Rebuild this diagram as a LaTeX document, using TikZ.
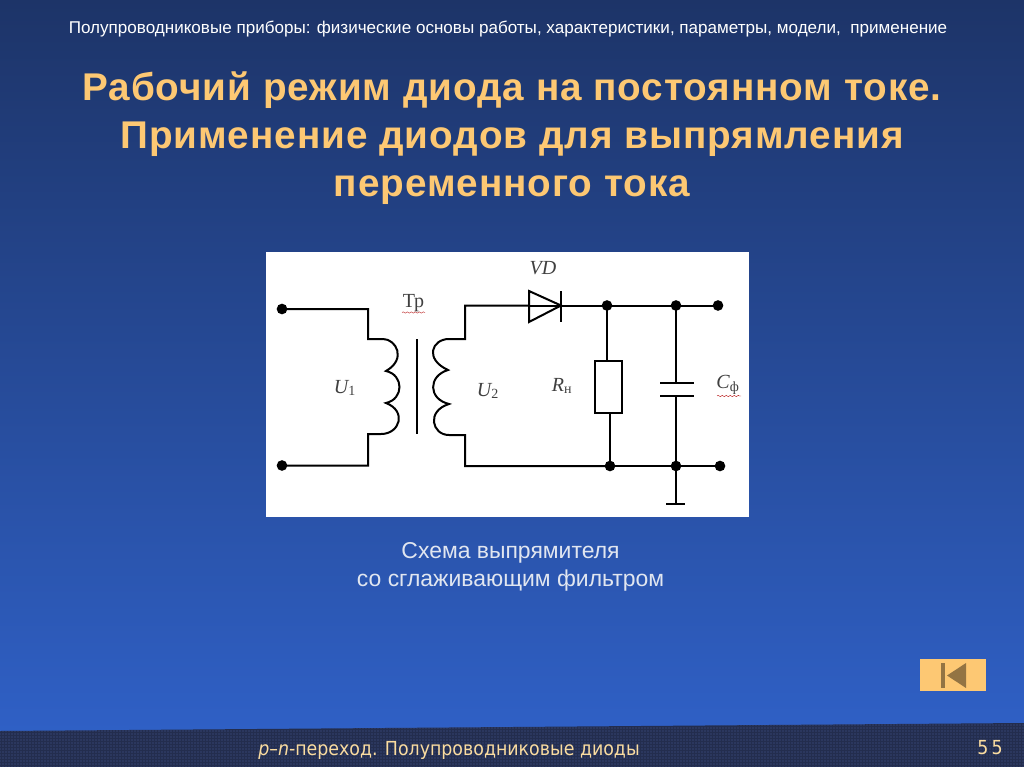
\documentclass[tikz,border=0pt]{standalone}
\usepackage{fontspec}
\setmainfont{Liberation Sans}
\newfontfamily\serifface{Liberation Serif}
\newfontfamily\titleface[LetterSpace=2.45]{Liberation Sans}
\newfontfamily\footface{DejaVu Sans Condensed}
\usetikzlibrary{decorations.pathmorphing, patterns.meta}
\definecolor{titleorange}{RGB}{253,200,115}
\definecolor{footband}{RGB}{35,45,78}
\definecolor{footdots}{RGB}{70,90,150}
\definecolor{footcream}{RGB}{250,220,160}
\definecolor{capgrey}{RGB}{225,230,240}
\tikzset{
    wire/.style={line width=1.5pt, black},
    junction/.style={circle, fill=black, inner sep=0pt, minimum size=8pt},
    partlabel/.style={font=\serifface\itshape\fontsize{15}{15}\selectfont, inner sep=0pt, black!75},
    spellmark/.style={red!70!black, line width=0.3pt, decorate, decoration={snake, amplitude=0.5pt, segment length=3pt}}
}
\begin{document}
\begin{tikzpicture}[x=0.75pt, y=-0.75pt]
    \useasboundingbox (0,0) rectangle (1024,767);
    % background
    \shade[top color={rgb,255:red,29;green,52;blue,104}, middle color={rgb,255:red,35;green,70;blue,146}, bottom color={rgb,255:red,48;green,98;blue,202}] (0,0) rectangle (1024,767);
    \fill[footband] (0,731) -- (1024,723) -- (1024,767) -- (0,767) -- cycle;
    \fill[pattern={Dots[distance=2.25pt, radius=0.55pt]}, pattern color=footdots] (0,731) -- (1024,723) -- (1024,767) -- (0,767) -- cycle;

    % texts
    \node[white, font=\fontsize{12.8}{15}\selectfont] (header) at (508,29) {Полупроводниковые приборы: физические основы работы, характеристики, параметры, модели,\ \ применение};
    \node[titleorange, align=center, font=\titleface\bfseries\fontsize{29}{36}\selectfont] (heading) at (512,138) {Рабочий режим диода на постоянном токе.\\Применение диодов для выпрямления\\переменного тока};
    \node[capgrey, align=center, font=\fontsize{17.2}{21}\selectfont] (caption) at (510.5,567) {Схема выпрямителя\\со сглаживающим фильтром};
    \node[footcream, font=\footface\fontsize{14.5}{16}\selectfont, anchor=west, inner sep=0pt] (footer) at (258,750) {\textit{p}–\textit{n}-переход. Полупроводниковые диоды};
    \node[footcream, font=\footface\fontsize{14.5}{16}\selectfont, anchor=east, inner sep=0pt] (pageno) at (1003,748) {5\,5};

    % back button
    \node[fill=titleorange, minimum width=49.5pt, minimum height=24.5pt, inner sep=0pt] (button) at (953,675) {};
    \fill[black!42!titleorange] (966,663) -- (966,688) -- (947,675.5) -- cycle;
    \fill[black!42!titleorange] (941,663) rectangle (945,688);

    % panel
    \node[fill=white, minimum width=362.25pt, minimum height=198.75pt, inner sep=0pt] (panel) at (507.5,384.5) {};

    % terminals and junctions
    \node[junction] (intop) at (282,309) {};
    \node[junction] (inbot) at (282,465.5) {};
    \node[junction] (jrtop) at (607,305.5) {};
    \node[junction] (jctop) at (676,305.5) {};
    \node[junction] (outtop) at (718,305.5) {};
    \node[junction] (jrbot) at (610,466) {};
    \node[junction] (jcbot) at (676,466) {};
    \node[junction] (outbot) at (720,466) {};

    % parts
    \node[draw, wire, fill=white, minimum width=20pt, minimum height=39pt, inner sep=0pt] (rload) at (608.5,387) {};
    \coordinate (diodein) at (529,305.5);
    \coordinate (diodeout) at (561,305.5);
    \coordinate (captop) at (676,383);
    \coordinate (capbot) at (676,396);
    \coordinate (earth) at (676,504);
    \coordinate (pritop) at (368,339);
    \coordinate (pribot) at (368,434);
    \coordinate (sectop) at (465,339);
    \coordinate (secbot) at (465,435);

    % primary
    \draw[wire] (intop.center) -| (pritop) -- (383,339)
        .. controls (396,339) and (407,359) .. (386,371)
        .. controls (404,375) and (404,399) .. (386,403)
        .. controls (407,411) and (400,434) .. (381,434) -- (pribot) |- (inbot.center);
    \draw[wire] (417,339) -- (417,434);
    % secondary
    \draw[wire] (diodein) -- (465,305.5) -- (sectop) -- (449,339)
        .. controls (432,339) and (424,359) .. (448,370)
        .. controls (428,376) and (428,399) .. (449,404)
        .. controls (426,411) and (432,435) .. (449,435) -- (secbot) |- (jrbot.center);
    % diode
    \draw[wire, line join=miter] (diodein) -- (529,291) -- (diodeout) -- (529,322) -- cycle;
    \draw[wire] (561,291) -- (561,322);
    \draw[wire] (diodein) -- (diodeout) -- (jrtop.center);
    % rails
    \draw[wire] (jrtop.center) -- (jctop.center) -- (outtop.center);
    \draw[wire] (jrbot.center) -- (jcbot.center) -- (outbot.center);
    \draw[wire] (jrtop.center) -- (rload.north -| jrtop);
    \draw[wire] (rload.south -| jrbot) -- (jrbot.center);
    % capacitor
    \draw[wire] (jctop.center) -- (captop);
    \draw[wire] (660,383) -- (694,383);
    \draw[wire] (660,396) -- (694,396);
    \draw[wire] (capbot) -- (jcbot.center);
    % earth
    \draw[wire] (jcbot.center) -- (earth);
    \draw[wire, line width=2.2pt] (666,504) -- (685,504);

    % labels
    \node[partlabel] (labu1) at (345,388) {U\textsubscript{\upshape 1}};
    \node[partlabel] (labu2) at (488,391) {U\textsubscript{\upshape 2}};
    \node[partlabel, font=\serifface\fontsize{15}{15}\selectfont] (labtp) at (413.5,303) {Тр};
    \node[partlabel] (labvd) at (543,268) {VD};
    \node[partlabel] (labr) at (562,386) {R\textsubscript{\upshape н}};
    \node[partlabel] (labc) at (728,385) {C\textsubscript{\upshape ф}};
    \draw[spellmark] (402,312.5) -- (425,312.5);
    \draw[spellmark] (717,396) -- (741,396);
\end{tikzpicture}
\end{document}
